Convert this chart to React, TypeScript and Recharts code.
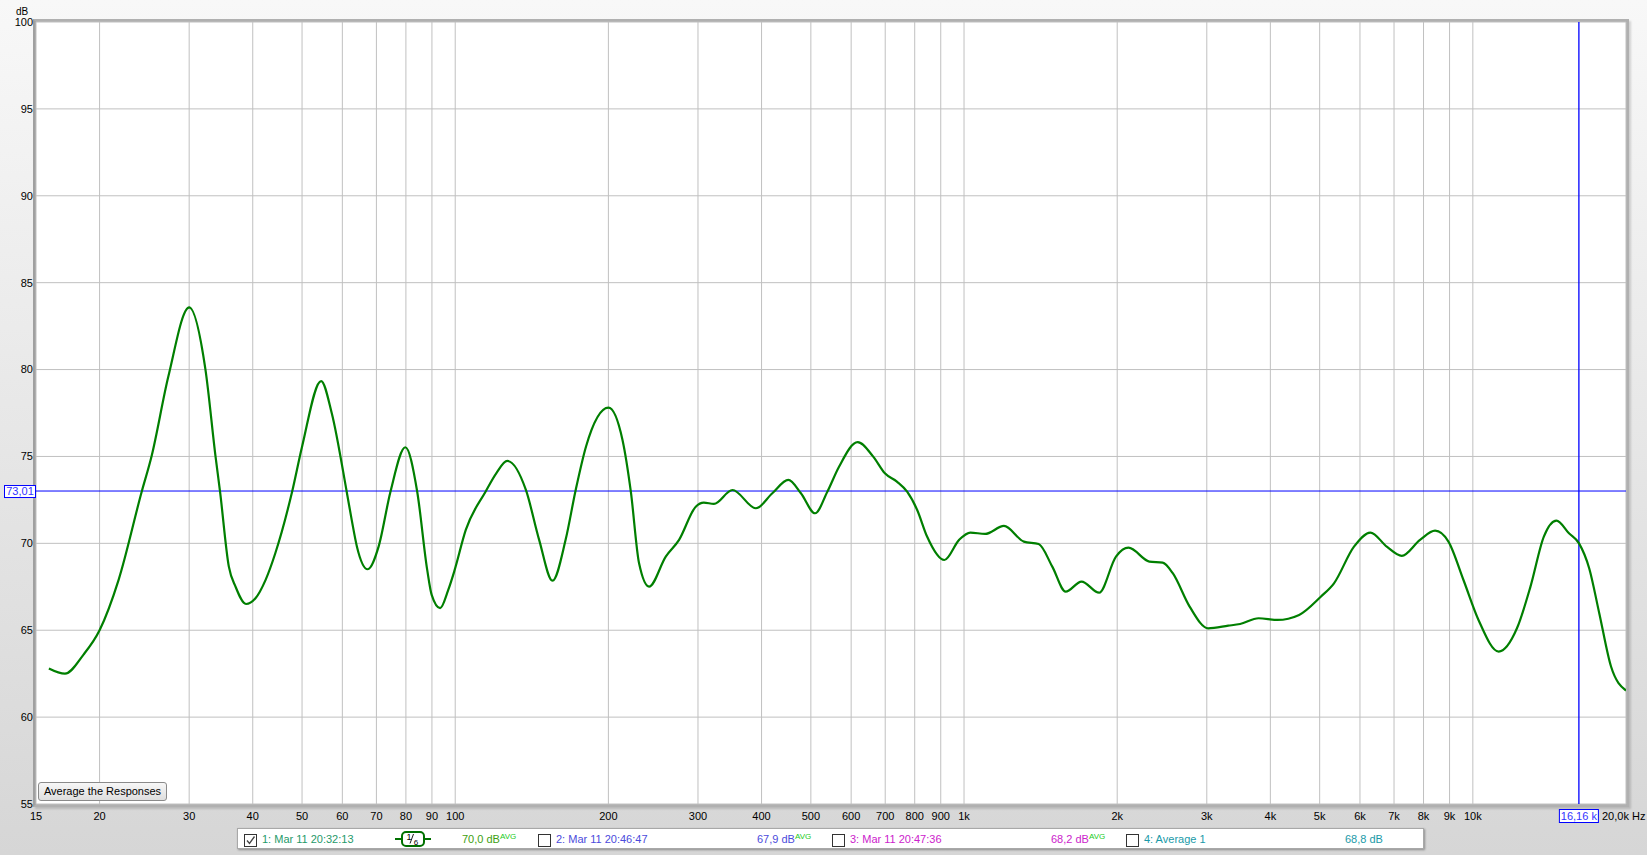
import React from 'react';
import { LineChart, Line, XAxis, YAxis, CartesianGrid, ReferenceLine } from 'recharts';

const freqs = [15.9, 17.1, 18.6, 20, 21.8, 24.2, 25.3, 27.3, 30.0, 32.3, 33.8, 34.5, 35.9, 37.0, 38.8, 40.5, 42.4, 44.3, 47.8, 50.0, 54.5, 57.2, 61.2, 62.6, 64.1, 67.3, 70.7, 74.6, 79.8, 84.2, 88.1, 89.9, 93.4, 96.9, 99.6, 104.9, 114.7, 120.4, 126.6, 137.7, 146.2, 155.3, 164.8, 172.5, 180.7, 200.1, 213.2, 221.4, 229.8, 240.4, 259.3, 275.4, 297, 308, 322.5, 350.7, 389.8, 420, 451.5, 478, 509.7, 538.7, 568, 618, 663, 699, 738, 773, 809, 846, 915, 978, 1029, 1100, 1198, 1311, 1402, 1491, 1584, 1702, 1843, 1989, 2105, 2313, 2457, 2572, 2776, 3018, 3306, 3488, 3793, 4130, 4556, 5025, 5335, 5840, 6290, 6774, 7250, 7875, 8430, 8955, 9585, 10260, 11240, 12210, 12980, 13790, 14600, 15450, 16170, 16930, 17720, 18690, 20000];
const levels = [62.8, 62.5, 63.6, 65.0, 67.9, 72.97, 75.0, 79.6, 83.58, 79.98, 75.0, 72.97, 68.66, 67.51, 66.51, 66.84, 67.9, 69.43, 72.97, 75.56, 79.34, 77.49, 72.97, 71.35, 69.81, 68.51, 69.81, 72.97, 75.53, 72.97, 68.47, 67.03, 66.27, 67.32, 68.4, 70.77, 72.97, 74.03, 74.74, 73.07, 70.2, 67.85, 70.2, 73.07, 75.56, 77.81, 75.95, 72.97, 68.85, 67.51, 69.24, 70.2, 72.11, 72.34, 72.27, 73.07, 72.02, 72.88, 73.65, 72.88, 71.73, 72.97, 74.41, 75.82, 74.99, 74.03, 73.55, 72.97, 71.92, 70.39, 69.04, 70.2, 70.62, 70.54, 71.0, 70.1, 69.96, 68.66, 67.22, 67.8, 67.16, 69.24, 69.75, 68.95, 68.89, 68.28, 66.36, 65.11, 65.26, 65.36, 65.69, 65.59, 65.88, 66.93, 67.7, 69.81, 70.62, 69.81, 69.28, 70.2, 70.73, 70.1, 67.89, 65.59, 63.77, 65.11, 67.51, 70.39, 71.31, 70.58, 70.0, 68.57, 65.98, 62.91, 61.53];

const xTicks = [15, 20, 30, 40, 50, 60, 70, 80, 90, 100, 200, 300, 400, 500, 600, 700, 800, 900, 1000, 2000, 3000, 4000, 5000, 6000, 7000, 8000, 9000, 10000, 20000];
const xTickLabels = ['15', '20', '30', '40', '50', '60', '70', '80', '90', '100', '200', '300', '400', '500', '600', '700', '800', '900', '1k', '2k', '3k', '4k', '5k', '6k', '7k', '8k', '9k', '10k', '20,0k Hz'];
const yTicks = [55, 60, 65, 70, 75, 80, 85, 90, 95, 100];

const cursorFreq = 16160;
const cursorFreqLabel = '16,16 k';
const cursorLevel = 73.01;
const cursorLevelLabel = '73,01';

const legendNames = ['1: Mar 11 20:32:13', '2: Mar 11 20:46:47', '3: Mar 11 20:47:36', '4: Average 1'];
const legendValues = ['70,0 dB', '67,9 dB', '68,2 dB', '68,8 dB'];
const legendAvg = [true, true, true, false];

const data = freqs.map((f, i) => ({ f, db: levels[i] }));

const FONT = '"Liberation Sans", Arial, sans-serif';

const XTick = (props: any) => {
  const { x, y, payload } = props;
  const idx = xTicks.indexOf(payload.value);
  const label = idx >= 0 ? xTickLabels[idx] : String(payload.value);
  const isLast = payload.value === 20000;
  return (
    <text x={isLast ? x - 24 : x} y={y} dy="0.71em" textAnchor={isLast ? 'start' : 'middle'} fontSize={11} fontFamily={FONT} fill="#000">
      {label}
    </text>
  );
};

const YTick = (props: any) => {
  const { x, y, payload } = props;
  return (
    <text x={x} y={y} dy="0.355em" textAnchor="end" fontSize={11} fontFamily={FONT} fill="#000">
      {payload.value}
    </text>
  );
};

const FreqCursorLabel = (props: any) => {
  const vb = props.viewBox || {};
  const cx = vb.x;
  const by = vb.y + vb.height;
  return (
    <g>
      <rect x={cx - 19.5} y={by + 5.5} width={39} height={13} fill="#fff" stroke="#0000ff" strokeWidth={1} />
      <text x={cx} y={by + 12} dy="0.355em" textAnchor="middle" fontSize={11} fontFamily={FONT} fill="#3333ff">
        {cursorFreqLabel}
      </text>
    </g>
  );
};

const LevelCursorLabel = (props: any) => {
  const vb = props.viewBox || {};
  const lx = vb.x;
  const cy = vb.y;
  return (
    <g>
      <rect x={lx - 31.5} y={cy - 5.5} width={31} height={12} fill="#fff" stroke="#0000ff" strokeWidth={1} />
      <text x={lx - 16} y={cy} dy="0.38em" textAnchor="middle" fontSize={11} fontFamily={FONT} fill="#3333ff">
        {cursorLevelLabel}
      </text>
    </g>
  );
};

const CheckBox = ({ checked, left }: { checked: boolean; left: number }) => (
  <div style={{ position: 'absolute', left, top: 5, width: 11, height: 11, border: '1px solid #333', background: '#fff' }}>
    {checked && (
      <svg width={11} height={11} style={{ position: 'absolute', left: 0, top: 0 }}>
        <path d="M2 5.5 L4.5 8.5 L9.5 1.5" stroke="#444" strokeWidth={1.3} fill="none" />
      </svg>
    )}
  </div>
);

const SmoothIcon = ({ left }: { left: number }) => (
  <svg width={36} height={17} style={{ position: 'absolute', left, top: 2 }}>
    <line x1={0} y1={8} x2={36} y2={8} stroke="#007000" strokeWidth={2} />
    <rect x={7} y={1} width={22} height={14} rx={4} ry={4} fill="#fff" stroke="#007000" strokeWidth={2} />
    <text x={14} y={9} fontSize={9} fontFamily={FONT} fill="#000" textAnchor="middle">1</text>
    <line x1={15} y1={12.5} x2={18.5} y2={3} stroke="#000" strokeWidth={0.9} />
    <text x={21} y={13.5} fontSize={8} fontFamily={FONT} fill="#000" textAnchor="middle">6</text>
  </svg>
);

const legendColors = ['#1f9a6a', '#4b4bdc', '#cc22cc', '#1a9aa8'];
const valueColors = ['#40a010', '#4b4bdc', '#cc22cc', '#1a9aa8'];

export default function App() {
  const legendTextStyle: React.CSSProperties = { position: 'absolute', top: 3, fontSize: 11, fontFamily: FONT, whiteSpace: 'nowrap', lineHeight: '14px' };
  const avgStyle: React.CSSProperties = { fontSize: 8, color: '#22cc22', verticalAlign: 'top', lineHeight: '10px' };
  return (
    <div style={{ position: 'absolute', left: 0, top: 0, width: 1647, height: 855, background: 'linear-gradient(#f8f8f8, #d6d6d6)', overflow: 'hidden' }}>
      <style>{'body{margin:0}'}</style>
      <div style={{ position: 'absolute', left: 16, top: 6, fontSize: 10, fontFamily: FONT }}>dB</div>
      <div style={{ position: 'absolute', left: 33, top: 19, width: 1596, height: 788, boxSizing: 'border-box', border: '3px solid #b0b0b0', borderLeftColor: '#a0a0a0', background: '#fff', boxShadow: '2px 2px 2px rgba(0,0,0,0.15)' }} />
      <div style={{ position: 'absolute', left: 0, top: 0 }}>
        <LineChart width={1647} height={855} data={data} margin={{ top: 22, right: 21, bottom: 31, left: 0 }}>
          <CartesianGrid stroke="#c0c0c0" strokeWidth={1} />
          <XAxis
            dataKey="f"
            type="number"
            scale="log"
            domain={[15, 20000]}
            ticks={xTicks}
            interval={0}
            allowDataOverflow
            axisLine={false}
            tickLine={false}
            height={20}
            tick={<XTick />}
          />
          <YAxis
            type="number"
            domain={[55, 100]}
            ticks={yTicks}
            interval={0}
            allowDataOverflow
            axisLine={false}
            tickLine={false}
            width={36}
            tickSize={3}
            tickMargin={0}
            tick={<YTick />}
          />
          <ReferenceLine y={cursorLevel} stroke="#0000ff" strokeWidth={1} label={<LevelCursorLabel />} />
          <ReferenceLine x={cursorFreq} stroke="#0000ff" strokeWidth={1.3} label={<FreqCursorLabel />} />
          <Line dataKey="db" type="monotone" stroke="#007f00" strokeWidth={2.2} dot={false} isAnimationActive={false} />
        </LineChart>
      </div>
      <div style={{ position: 'absolute', left: 38, top: 782, width: 129, height: 19, boxSizing: 'border-box', border: '1px solid #8a8a8a', borderRadius: 3, background: 'linear-gradient(#f7f7f7, #dedede)', fontSize: 11, fontFamily: FONT, textAlign: 'center', lineHeight: '17px', color: '#000' }}>
        Average the Responses
      </div>
      <div style={{ position: 'absolute', left: 237, top: 828, width: 1187, height: 21, boxSizing: 'border-box', background: '#fff', border: '1px solid #a8a8a8', boxShadow: '1px 1px 2px rgba(0,0,0,0.35)' }}>
        <CheckBox checked={true} left={6} />
        <div style={{ ...legendTextStyle, left: 24, color: legendColors[0] }}>{legendNames[0]}</div>
        <SmoothIcon left={157} />
        <div style={{ ...legendTextStyle, left: 224, color: valueColors[0] }}>{legendValues[0]}<sup style={avgStyle}>AVG</sup></div>

        <CheckBox checked={false} left={300} />
        <div style={{ ...legendTextStyle, left: 318, color: legendColors[1] }}>{legendNames[1]}</div>
        <div style={{ ...legendTextStyle, left: 519, color: valueColors[1] }}>{legendValues[1]}<sup style={avgStyle}>AVG</sup></div>

        <CheckBox checked={false} left={594} />
        <div style={{ ...legendTextStyle, left: 612, color: legendColors[2] }}>{legendNames[2]}</div>
        <div style={{ ...legendTextStyle, left: 813, color: valueColors[2] }}>{legendValues[2]}<sup style={avgStyle}>AVG</sup></div>

        <CheckBox checked={false} left={888} />
        <div style={{ ...legendTextStyle, left: 906, color: legendColors[3] }}>{legendNames[3]}</div>
        <div style={{ ...legendTextStyle, left: 1107, color: valueColors[3] }}>{legendValues[3]}{legendAvg[3] ? <sup style={avgStyle}>AVG</sup> : null}</div>
      </div>
    </div>
  );
}
